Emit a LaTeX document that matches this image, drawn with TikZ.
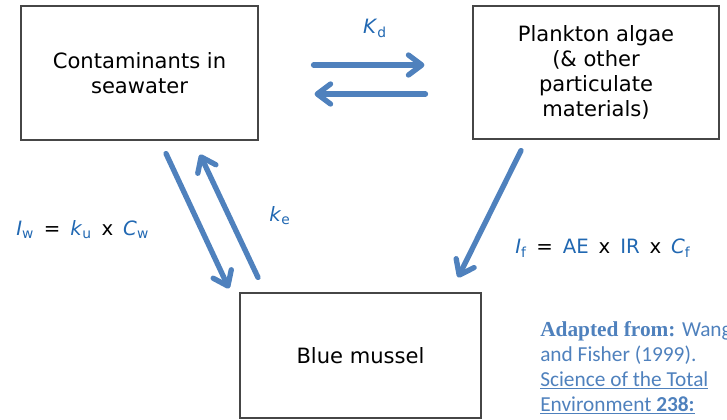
\documentclass[tikz,border=0pt]{standalone}
\usepackage{fontspec}
\setmainfont{DejaVu Sans}
\newfontfamily\citefont{Carlito}
\newfontfamily\citeserif{Liberation Serif}
\usepackage{tikz}
\usetikzlibrary{arrows.meta,calc}
\definecolor{flowblue} {RGB}{79,129,189}
\definecolor{labelblue}{RGB}{33,104,178}
\definecolor{boxgray}  {RGB}{70,70,70}

\newcommand{\vb}[1]{\textcolor{labelblue}{#1}}
\newcommand{\var}[2]{\textcolor{labelblue}{\textit{#1}\textsubscript{#2}}}
\newcommand{\gap}{\hspace{0.5em}}

\begin{document}
\begin{tikzpicture}[x=0.75pt, y=-0.75pt,
  box/.style={draw=boxgray, line width=0.8pt, align=center, inner sep=0pt,
    font=\fontsize{15.8}{18.75}\selectfont},
  flow/.style={draw=flowblue, line width=4pt, line cap=round,
    -{Straight Barb[length=10pt, width=15pt, round]}},
  lbl/.style={font=\fontsize{14.8}{16}\selectfont, inner sep=0pt},
]
\useasboundingbox (0,0) rectangle (727,419);
\clip (0,0) rectangle (727,419);

% Compartments
\node[box, minimum width=177.75pt, minimum height=100.5pt] (sea)    at (139.5,73)  {Contaminants in\\seawater};
\node[box, minimum width=184.5pt,  minimum height=99.75pt] (algae)  at (596,72.5)  {Plankton algae\\(\& other\\particulate\\materials)};
\node[box, minimum width=180.75pt, minimum height=93.75pt] (mussel) at (360.5,355.5) {Blue mussel};

% Partitioning between water and particles
\draw[flow] ($(sea.east)+(55,-8)$)     -- ($(algae.west)+(-48,-7.5)$);
\draw[flow] ($(algae.west)+(-47,21.5)$) -- ($(sea.east)+(56,21)$);
\node[lbl] (kd) at (375,28) {\var{K}{d}};

% Uptake from water and efflux
\draw[flow] ($(sea.south)+(26.5,13)$)     -- ($(mussel.north)+(-131.5,-4)$);
\draw[flow] ($(mussel.north)+(-102.5,-15)$) -- ($(sea.south)+(60.5,14)$);
\node[lbl, anchor=west] (iw) at (16,230) {\var{I}{w}\gap=\gap\var{k}{u}\gap x\gap\var{C}{w}};
\node[lbl] (ke) at (280,216) {\var{k}{e}};

% Uptake from food
\draw[flow] ($(algae.south)+(-75,11)$) -- ($(mussel.north)+(97.5,-15)$);
\node[lbl, anchor=west] (if) at (515,248) {\var{I}{f}\gap=\gap\vb{AE}\gap x\gap\vb{IR}\gap x\gap\var{C}{f}};

% Source
\node[anchor=north west, align=left, text=flowblue, inner sep=0pt,
  font=\citefont\fontsize{16}{18.75}\selectfont] (cite) at (540,321)
  {{\citeserif\bfseries Adapted from:} Wang\\and Fisher (1999).\\\underline{Science of the Total}\\\underline{Environment \textbf{238:}}};

\end{tikzpicture}
\end{document}
